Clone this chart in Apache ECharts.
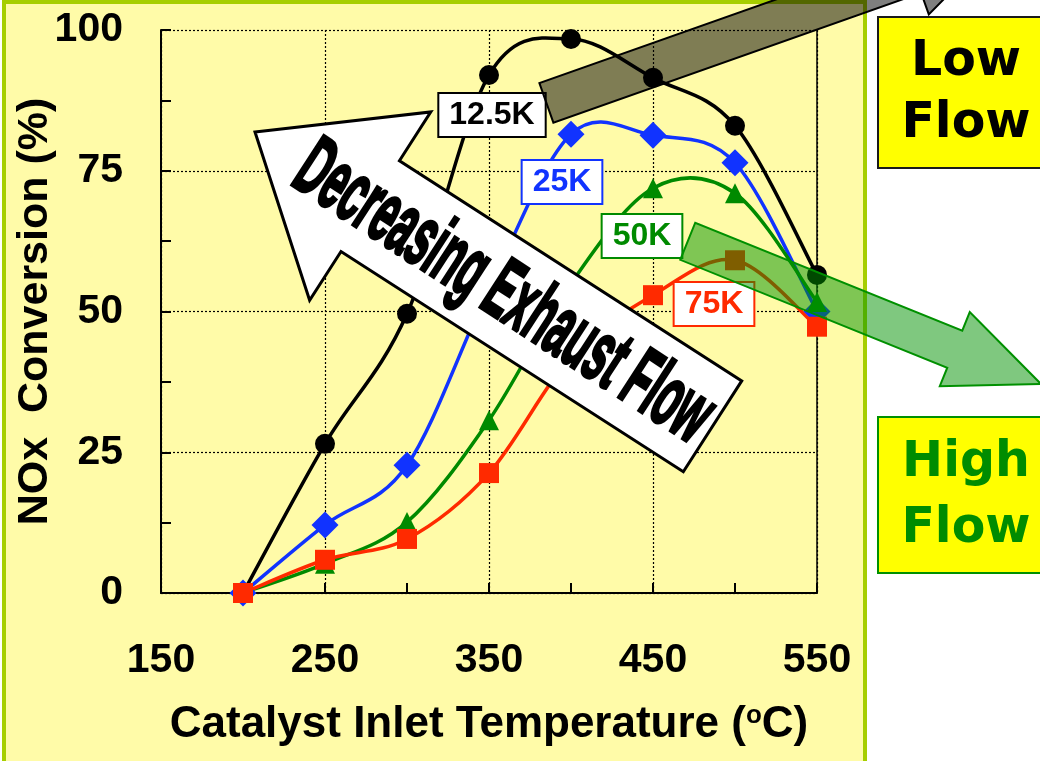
<!DOCTYPE html>
<html>
<head>
<meta charset="utf-8">
<script src="https://cdn.jsdelivr.net/npm/echarts/dist/echarts.min.js"></script>
<style>
  html, body { margin: 0; padding: 0; background: #ffffff; }
  #chart { width: 1040px; height: 761px; }
</style>
</head>
<body>
<div id="chart"></div>
<script>
// Catalyst inlet temperature (°C) at which NOx conversion was measured
const temps = [200, 250, 300, 350, 400, 450, 500, 550];

// NOx conversion (%) for each exhaust flow rate
const conv12_5K = [0, 26.5, 49.6, 92.0, 98.4, 91.5, 83.0, 56.5];
const conv25K   = [0, 12.1, 22.7, 54.0, 81.5, 81.3, 76.4, 50.0];
const conv50K   = [0, 5.2, 12.6, 30.7, 55.0, 71.9, 71.0, 51.7];
const conv75K   = [0, 5.9, 9.6, 21.3, 42.0, 52.9, 59.1, 47.3];

// Axis ranges and label steps
const xRange = [150, 550];
const xStep = 100;
const yRange = [0, 100];
const yStep = 25;

const FONT = '"Liberation Sans", Arial, sans-serif';
const SIDE_FONT = 'bold 49px "DejaVu Sans", Verdana, sans-serif';
const PANEL_YELLOW = '#FFFBA8';

function pairs(values) {
  return temps.map((t, i) => [t, values[i]]);
}

// Smoothed connecting line (Catmull-Rom segments through the measured points)
function curve(name, values, color) {
  return {
    name: name,
    type: 'custom',
    data: pairs(values),
    encode: { x: 0, y: 1 },
    silent: true,
    animation: false,
    clip: false,
    renderItem: function (params, api) {
      const i = params.dataIndexInside;
      const n = params.dataInsideLength;
      if (i >= n - 1) return null;
      const pt = k => api.coord([api.value(0, k), api.value(1, k)]);
      const p0 = pt(Math.max(i - 1, 0));
      const p1 = pt(i);
      const p2 = pt(i + 1);
      const p3 = pt(Math.min(i + 2, n - 1));
      return {
        type: 'bezierCurve',
        shape: {
          x1: p1[0], y1: p1[1], x2: p2[0], y2: p2[1],
          cpx1: p1[0] + (p2[0] - p0[0]) / 6, cpy1: p1[1] + (p2[1] - p0[1]) / 6,
          cpx2: p2[0] - (p3[0] - p1[0]) / 6, cpy2: p2[1] - (p3[1] - p1[1]) / 6
        },
        style: { stroke: color, lineWidth: 3.5, fill: null, lineCap: 'round' }
      };
    }
  };
}

function markers(name, values, color, symbol, size) {
  return {
    name: name,
    type: 'scatter',
    data: pairs(values),
    symbol: symbol,
    symbolSize: size,
    itemStyle: { color: color, opacity: 1 },
    emphasis: { disabled: true },
    animation: false
  };
}

// Block arrow polygon: tip point, heading (deg, tail -> tip), overall length,
// head length, head half-width, shaft half-width
function blockArrow(tip, angleDeg, total, headLen, headHalf, shaftHalf) {
  const a = angleDeg * Math.PI / 180;
  const ux = Math.cos(a), uy = Math.sin(a);
  const nx = -uy, ny = ux;
  const P = (s, t) => [tip[0] - ux * s + nx * t, tip[1] - uy * s + ny * t];
  return [P(0, 0), P(headLen, headHalf), P(headLen, shaftHalf), P(total, shaftHalf),
          P(total, -shaftHalf), P(headLen, -shaftHalf), P(headLen, -headHalf)];
}

function flowLabel(text, color, cx, cy) {
  return {
    type: 'text', x: cx, y: cy, z: 20,
    style: {
      text: text, fill: color, font: 'bold 32px ' + FONT,
      align: 'center', verticalAlign: 'middle',
      backgroundColor: '#ffffff', borderColor: color, borderWidth: 2,
      padding: [6, 10, 4, 10]
    }
  };
}

const chart = echarts.init(document.getElementById('chart'), null, { renderer: 'canvas' });

const axisLabelStyle = { color: '#000', fontSize: 41, fontWeight: 'bold', fontFamily: FONT };
const dotted = { show: true, lineStyle: { color: '#000', width: 1.2, type: [2, 2] } };

const option = {
  animation: false,
  backgroundColor: '#ffffff',
  grid: { left: 161, right: 223, top: 30, bottom: 168, containLabel: false, outerBoundsMode: 'none' },
  xAxis: {
    type: 'value', min: xRange[0], max: xRange[1], interval: xStep,
    name: 'Catalyst Inlet Temperature ({sup|o}C)',
    nameLocation: 'middle', nameGap: 110, nameMoveOverlap: false,
    nameTextStyle: {
      color: '#000', fontSize: 44, fontWeight: 'bold', fontFamily: FONT,
      rich: {
        sup: { fontSize: 26, fontWeight: 'bold', fontFamily: FONT, color: '#000', verticalAlign: 'top', lineHeight: 44 }
      }
    },
    axisLine: { show: true, onZero: false, lineStyle: { color: '#000', width: 2 } },
    axisTick: { show: true, inside: true, length: 10, lineStyle: { color: '#000', width: 2 } },
    minorTick: { show: true, splitNumber: 2, length: 10, lineStyle: { color: '#000', width: 2 } },
    axisLabel: Object.assign({ margin: 47 }, axisLabelStyle),
    splitLine: dotted
  },
  yAxis: [{
    type: 'value', min: yRange[0], max: yRange[1], interval: yStep,
    name: 'NOx  Conversion (%)',
    nameLocation: 'middle', nameGap: 104, nameRotate: 90, nameMoveOverlap: false,
    nameTextStyle: { color: '#000', fontSize: 43, fontWeight: 'bold', fontFamily: FONT },
    axisLine: { show: true, onZero: false, lineStyle: { color: '#000', width: 2 } },
    axisTick: { show: true, inside: true, length: 10, lineStyle: { color: '#000', width: 2 } },
    minorTick: { show: true, splitNumber: 2, length: 10, lineStyle: { color: '#000', width: 2 } },
    axisLabel: Object.assign({ margin: 38 }, axisLabelStyle),
    splitLine: dotted
  }, {
    type: 'value', min: yRange[0], max: yRange[1], position: 'right',
    axisLine: { show: true, onZero: false, lineStyle: { color: '#000', width: 1.5 } },
    axisTick: { show: false }, axisLabel: { show: false }, splitLine: { show: false }
  }],
  series: [
    curve('12.5K', conv12_5K, '#000000'),
    markers('12.5K', conv12_5K, '#000000', 'circle', 20),
    curve('25K', conv25K, '#1133FF'),
    markers('25K', conv25K, '#1133FF', 'diamond', 27),
    curve('50K', conv50K, '#008A00'),
    markers('50K', conv50K, '#008A00', 'triangle', 20),
    curve('75K', conv75K, '#FF2A00'),
    markers('75K', conv75K, '#FF2A00', 'rect', 20)
  ],
  graphic: [
    // chart panel
    { type: 'rect', z: -5, shape: { x: 4, y: 2, width: 861, height: 770 },
      style: { fill: PANEL_YELLOW, stroke: '#A6CE00', lineWidth: 4 } },

    // flow-rate tags
    flowLabel('12.5K', '#000000', 492, 115),
    flowLabel('25K', '#1133FF', 562, 182),
    flowLabel('50K', '#008A00', 642, 236),
    flowLabel('75K', '#FF2A00', 714, 304),

    // big white arrow with its caption
    { type: 'polygon', z: 30,
      shape: { points: blockArrow([255, 132], 212.75, 544, 137, 112, 54) },
      style: { fill: '#ffffff', stroke: '#000000', lineWidth: 3, lineJoin: 'miter' } },
    { type: 'text', z: 31, x: 503, y: 294, rotation: -33 * Math.PI / 180,
      scaleX: 0.66, scaleY: 1.42,
      style: { text: 'Decreasing Exhaust Flow', font: 'bold 60px ' + FONT,
               fill: '#000', stroke: '#000', lineWidth: 2.5,
               align: 'center', verticalAlign: 'middle' } },

    // low-flow (gray) and high-flow (green) direction arrows
    { type: 'polygon', z: 32,
      shape: { points: blockArrow([999, -57], -19.45, 480, 90, 44, 21) },
      style: { fill: 'rgba(0,0,0,0.5)', stroke: '#000', lineWidth: 2 } },
    { type: 'polygon', z: 32,
      shape: { points: blockArrow([1041, 384], 22, 381, 93, 40, 20) },
      style: { fill: 'rgba(0,145,0,0.5)', stroke: '#009000', lineWidth: 2 } },

    // side captions
    { type: 'rect', z: 10, shape: { x: 878, y: 17, width: 200, height: 151 },
      style: { fill: '#FFFF00', stroke: '#1a1a1a', lineWidth: 2 } },
    { type: 'text', z: 11, x: 966, y: 93,
      style: { text: 'Low\nFlow', font: SIDE_FONT,
               fill: '#000', align: 'center', verticalAlign: 'middle', lineHeight: 62 } },
    { type: 'rect', z: 10, shape: { x: 878, y: 417, width: 200, height: 156 },
      style: { fill: '#FFFF00', stroke: '#009000', lineWidth: 2 } },
    { type: 'text', z: 11, x: 966, y: 496,
      style: { text: 'High\nFlow', font: SIDE_FONT,
               fill: '#008C00', align: 'center', verticalAlign: 'middle', lineHeight: 66 } }
  ]
};

chart.setOption(option);
</script>
</body>
</html>
